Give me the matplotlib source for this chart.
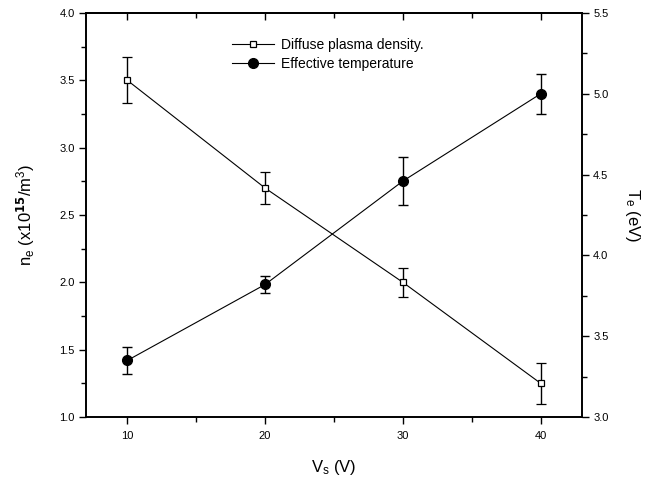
import numpy as np
import matplotlib
matplotlib.use('Agg')
import matplotlib.pyplot as plt
from matplotlib.lines import Line2D

plt.rcParams['font.family'] = ['Liberation Sans', 'DejaVu Sans']
plt.rcParams['mathtext.default'] = 'regular'

vs = [10, 20, 30, 40]
density = [3.5, 2.7, 2.0, 1.25]
density_err = [0.17, 0.12, 0.11, 0.15]
temperature = [3.35, 3.82, 4.46, 5.0]
temperature_err = [0.085, 0.05, 0.15, 0.125]

fig = plt.figure(figsize=(6.47, 4.86), dpi=100)
ax = fig.add_axes([86/647, 1 - 417/486, (582-86)/647, (417-13)/486])
ax2 = ax.twinx()

ax.errorbar(vs, density, yerr=density_err, color='black', lw=0.8,
            marker='s', ms=4.5, mfc='white', mec='black', mew=0.9,
            capsize=3.5, elinewidth=1, capthick=1)
ax2.errorbar(vs, temperature, yerr=temperature_err, color='black', lw=0.8,
             marker='o', ms=7, mfc='black', mec='black',
             capsize=3.5, elinewidth=1, capthick=1)

ax.set_xlim(7, 43)
ax.set_ylim(1.0, 4.0)
ax2.set_ylim(3.0, 5.5)
ax.set_xticks([10, 20, 30, 40])
ax.set_xticks([15, 25, 35], minor=True)
ax.set_yticks(np.arange(1.0, 4.01, 0.5))
ax.set_yticks(np.arange(1.25, 4.0, 0.5), minor=True)
ax2.set_yticks(np.arange(3.0, 5.51, 0.5))
ax2.set_yticks(np.arange(3.25, 5.5, 0.5), minor=True)
ax.yaxis.set_major_formatter(matplotlib.ticker.FormatStrFormatter('%.1f'))
ax2.yaxis.set_major_formatter(matplotlib.ticker.FormatStrFormatter('%.1f'))

# bottom ticks out, top ticks in (Origin style)
ax.tick_params(axis='x', which='both', direction='out', labelsize=8, pad=5)
ax.tick_params(axis='x', which='major', length=5, width=1)
ax.tick_params(axis='x', which='minor', length=3.5, width=1)
sec = ax.secondary_xaxis('top')
sec.set_xticks([10, 20, 30, 40])
sec.set_xticks([15, 25, 35], minor=True)
sec.tick_params(axis='x', which='major', direction='in', length=5, width=1, labeltop=False)
sec.tick_params(axis='x', which='minor', direction='in', length=3.5, width=1)
sec.spines['top'].set_linewidth(1.2)

for a in (ax, ax2):
    a.tick_params(axis='y', which='major', direction='out', length=5, width=1, labelsize=8, pad=3)
    a.tick_params(axis='y', which='minor', direction='out', length=3.5, width=1)
    for s in a.spines.values():
        s.set_linewidth(1.2)

ax.set_xlabel('V$_s$ (V)', fontsize=12, labelpad=12)
ax.set_ylabel('n$_e$ (x10$^{\\mathbf{15}}$/m$^3$)', fontsize=12, labelpad=16)
ax2.set_ylabel('T$_e$ (eV)', fontsize=12, rotation=270, labelpad=24)

handles = [
    Line2D([], [], color='black', lw=0.8, marker='s', ms=4.5, mfc='white', mec='black', mew=0.9),
    Line2D([], [], color='black', lw=0.8, marker='o', ms=7, mfc='black', mec='black'),
]
labels = ['Diffuse plasma density.', 'Effective temperature']
ax.legend(handles, labels, loc='upper left', bbox_to_anchor=(0.27, 0.97),
          frameon=False, fontsize=10, handlelength=3, handletextpad=0.5,
          labelspacing=0.4)

fig.savefig('out.png', dpi=100)
